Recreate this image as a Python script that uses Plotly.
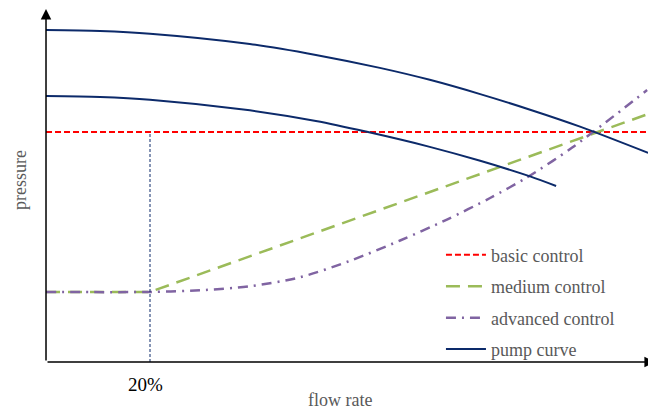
import plotly.graph_objects as go

# ---- data (flow rate in %, pressure in relative units) ----
pump_hi_x = [0, 10.4, 20, 39.2, 51.9, 64.2, 73.8, 83.5, 93.1, 102.7, 115.8]
pump_hi_y = [100, 99.7, 98.9, 95.8, 92.5, 88.6, 85.0, 80.7, 76.0, 70.9, 63.0]

pump_lo_x = [0, 10.4, 20, 39.2, 51.9, 61.5, 73.8, 83.5, 93.1, 98.1]
pump_lo_y = [80.1, 79.8, 79.0, 75.8, 72.6, 69.4, 64.8, 60.6, 55.9, 53.0]

basic_x = [0, 115.8]
basic_y = [69.3, 69.3]

medium_x = [0, 20, 115.8]
medium_y = [21.1, 21.1, 74.7]

adv_x = [0, 20, 29.6, 39.2, 48.8, 58.5, 68.1, 77.1, 85.4, 92.5, 101.2, 115.6]
adv_y = [21.1, 21.1, 21.6, 22.8, 25.5, 30.5, 36.6, 42.9, 49.4, 55.6, 64.6, 81.9]

marker_x = 20          # 20% flow marker
marker_label = "20%"

NAVY = "#0c2a6a"
FONT = "Liberation Serif, Times New Roman, serif"
GREY = "#595959"

fig = go.Figure()

fig.add_trace(go.Scatter(x=basic_x, y=basic_y, mode="lines", name="basic control",
                         legendgroup="a",
                         line=dict(color="#ff0000", width=2, dash="6px,3px")))
fig.add_trace(go.Scatter(x=medium_x, y=medium_y, mode="lines", name="medium control",
                         legendgroup="b",
                         line=dict(color="#9bbb59", width=2.5, dash="14px,8px")))
fig.add_trace(go.Scatter(x=adv_x, y=adv_y, mode="lines", name="advanced control",
                         legendgroup="c", line=dict(color="#8064a2", width=2.5,
                                                    dash="10px,6px,2px,6px",
                                                    shape="spline", smoothing=0.8)))
fig.add_trace(go.Scatter(x=pump_hi_x, y=pump_hi_y, mode="lines", name="pump curve",
                         legendgroup="d",
                         line=dict(color=NAVY, width=2, shape="spline", smoothing=0.8)))
fig.add_trace(go.Scatter(x=pump_lo_x, y=pump_lo_y, mode="lines", name="pump curve",
                         legendgroup="d", showlegend=False,
                         line=dict(color=NAVY, width=2, shape="spline", smoothing=0.8)))
# vertical marker at 20%
fig.add_trace(go.Scatter(x=[marker_x, marker_x], y=[0, basic_y[0]], mode="lines",
                         showlegend=False,
                         line=dict(color=NAVY, width=1, dash="3px,2px")))

x_range = [-7.31, 118.85]
y_range = [-17.47, 106.63]

annotations = [
    # axes with arrows
    dict(x=117.1, y=0, ax=0, ay=0, xref="x", yref="y", axref="x", ayref="y",
         text="", showarrow=True, arrowhead=2, arrowsize=1.4, arrowwidth=1.5,
         arrowcolor="black", standoff=0),
    dict(x=0, y=106.3, ax=0, ay=0, xref="x", yref="y", axref="x", ayref="y",
         text="", showarrow=True, arrowhead=2, arrowsize=1.4, arrowwidth=1.5,
         arrowcolor="black", standoff=0),
    dict(x=-5.0, y=54.8, xref="x", yref="y", text="pressure", textangle=-90,
         showarrow=False, font=dict(family=FONT, size=18, color=GREY)),
    dict(x=56.5, y=-11.4, xref="x", yref="y", text="flow rate",
         showarrow=False, font=dict(family=FONT, size=18, color=GREY)),
    dict(x=19.2, y=-6.9, xref="x", yref="y", text=marker_label,
         showarrow=False, font=dict(family=FONT, size=19, color="black")),
]

fig.update_layout(
    width=656, height=412,
    margin=dict(l=0, r=0, t=0, b=0),
    paper_bgcolor="white", plot_bgcolor="white",
    xaxis=dict(range=x_range, visible=False, fixedrange=True),
    yaxis=dict(range=y_range, visible=False, fixedrange=True),
    showlegend=True,
    legend=dict(x=0.66, y=0.445, xanchor="left", yanchor="top",
                font=dict(family=FONT, size=18, color=GREY),
                tracegroupgap=5, itemwidth=40, bgcolor="rgba(0,0,0,0)"),
    annotations=annotations,
)

fig.write_html("out.html")
